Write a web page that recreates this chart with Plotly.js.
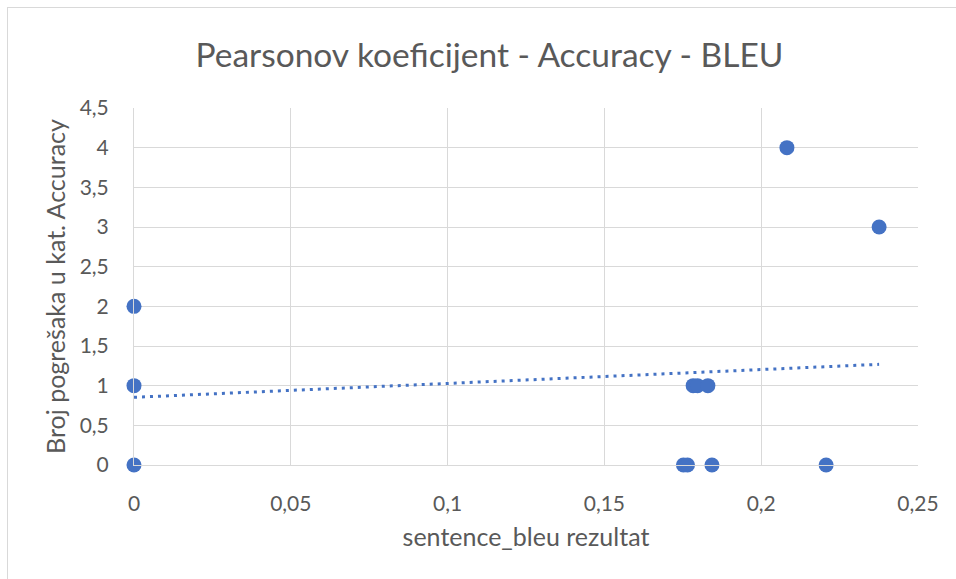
<!DOCTYPE html>
<html>
<head>
<meta charset="utf-8">
<script src="https://cdn.plot.ly/plotly-3.0.1.min.js"></script>
<style>
html,body{margin:0;padding:0;background:#fff;}
#wrap{position:relative;width:956px;height:579px;}
#frame{position:absolute;left:7px;top:7px;width:960px;height:580px;border:1px solid #d9d9d9;box-sizing:border-box;pointer-events:none;}
#chart{position:absolute;left:0;top:0;width:956px;height:579px;}
</style>
</head>
<body>
<div id="wrap"><div id="chart"></div><div id="frame"></div></div>
<script>
const bleuScores = [0, 0, 0, 0.2082, 0.2376, 0.1783, 0.1797, 0.1830, 0.1752, 0.1765, 0.1843, 0.2207];
const accuracyErrors = [2, 1, 0, 4, 3, 1, 1, 1, 0, 0, 0, 0];
const trendX = [0, 0.2376];
const trendY = [0.853, 1.269];
const xTicks = [0, 0.05, 0.1, 0.15, 0.2, 0.25];
const yTicks = [0, 0.5, 1, 1.5, 2, 2.5, 3, 3.5, 4, 4.5];

const fontFam = 'Lato, "Open Sans", "DejaVu Sans", sans-serif';
const txt = '#595959';

const traces = [
  {
    x: trendX, y: trendY, type: 'scatter', mode: 'lines',
    line: {color: '#4472c4', width: 3, dash: '3px,5px'},
    hoverinfo: 'skip', cliponaxis: false
  },
  {
    x: bleuScores, y: accuracyErrors, type: 'scatter', mode: 'markers',
    marker: {color: '#4472c4', size: 15, line: {width: 0}},
    cliponaxis: false
  }
];

const layout = {
  width: 956, height: 579,
  margin: {l: 134, r: 38, t: 108, b: 114},
  paper_bgcolor: '#ffffff', plot_bgcolor: '#ffffff',
  showlegend: false,
  separators: ',.',
  font: {family: fontFam, color: txt},
  title: {
    text: 'Pearsonov koeficijent - Accuracy - BLEU',
    font: {family: fontFam, size: 33.5, color: txt},
    x: 0.512, xanchor: 'center', y: 0.905, yanchor: 'middle'
  },
  xaxis: {
    range: [0, 0.25], tickvals: xTicks, ticktext: xTicks.map(v => String(v).replace('.', ',')),
    showgrid: true, gridcolor: '#d9d9d9', gridwidth: 1,
    zeroline: false, showline: true, linecolor: '#d9d9d9', linewidth: 1,
    ticks: '', ticklen: 0, ticklabelstandoff: 20,
    tickfont: {family: fontFam, size: 21, color: txt},
    title: {text: 'sentence_bleu rezultat', font: {family: fontFam, size: 25, color: txt}, standoff: 14},
    fixedrange: true
  },
  yaxis: {
    range: [0, 4.5], tickvals: yTicks, ticktext: yTicks.map(v => String(v).replace('.', ',')),
    showgrid: true, gridcolor: '#d9d9d9', gridwidth: 1,
    zeroline: false, showline: true, linecolor: '#d9d9d9', linewidth: 1,
    ticks: '', ticklen: 0, ticklabelstandoff: 20,
    tickfont: {family: fontFam, size: 21, color: txt},
    title: {text: 'Broj pogrešaka u kat. Accuracy', font: {family: fontFam, size: 25, color: txt}, standoff: 6},
    fixedrange: true
  }
};

Plotly.newPlot('chart', traces, layout, {displayModeBar: false, staticPlot: true});
</script>
</body>
</html>
